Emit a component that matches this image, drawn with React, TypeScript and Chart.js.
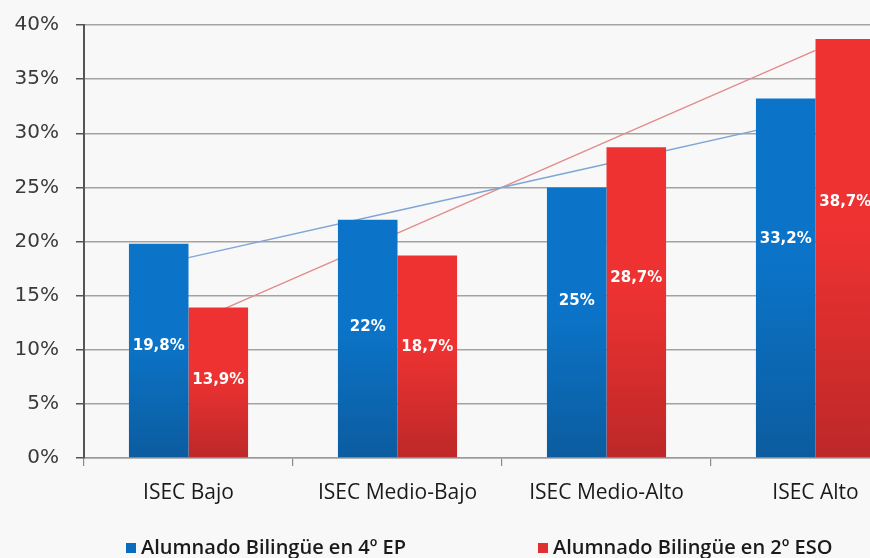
import React, { useEffect, useRef } from "react";
import { Chart, registerables } from "chart.js";

Chart.register(...registerables);

const categories = ["ISEC Bajo", "ISEC Medio-Bajo", "ISEC Medio-Alto", "ISEC Alto"];
const seriesNames = ["Alumnado Bilingüe en 4º EP", "Alumnado Bilingüe en 2º ESO"];
const primaria = [19.8, 22, 25, 33.2];
const secundaria = [13.9, 18.7, 28.7, 38.7];
const yTicks = [0, 5, 10, 15, 20, 25, 30, 35, 40];

// Linear (least squares) trend line computed from a series, as in the source chart
function linearTrend(vals: number[]): number[] {
  const n = vals.length;
  const mx = (n - 1) / 2;
  const my = vals.reduce((a, b) => a + b, 0) / n;
  let num = 0;
  let den = 0;
  vals.forEach((v, i) => {
    num += (i - mx) * (v - my);
    den += (i - mx) * (i - mx);
  });
  const slope = num / den;
  const icpt = my - slope * mx;
  return vals.map((_, i) => icpt + slope * i);
}

const BLUE_TOP = "#0b74c8";
const BLUE_BOT = "#0c5c9f";
const RED_TOP = "#ee3232";
const RED_BOT = "#bd2828";

function barGradient(top: string, bot: string) {
  return (ctx: any) => {
    const chart = ctx.chart;
    const ca = chart.chartArea;
    if (!ca || ctx.type !== "data") return top;
    const y = chart.scales.y;
    const v = ctx.raw as number;
    const yTop = y.getPixelForValue(v);
    const yBot = y.getPixelForValue(0);
    const g = chart.ctx.createLinearGradient(0, yTop, 0, yBot);
    g.addColorStop(0, top);
    g.addColorStop(0.45, top);
    g.addColorStop(1, bot);
    return g;
  };
}

const bgPlugin = {
  id: "bgPlugin",
  beforeDraw(chart: any) {
    const { ctx, width, height } = chart;
    ctx.save();
    ctx.fillStyle = "#f8f8f8";
    ctx.fillRect(0, 0, width, height);
    ctx.restore();
  },
};

const labelPlugin = {
  id: "labelPlugin",
  afterDatasetsDraw(chart: any) {
    const { ctx } = chart;
    const y = chart.scales.y;
    ctx.save();
    ctx.font = "bold 15px 'DejaVu Sans'";
    ctx.fillStyle = "#ffffff";
    ctx.textAlign = "center";
    ctx.textBaseline = "middle";
    [0, 1].forEach((di) => {
      const meta = chart.getDatasetMeta(di);
      const vals = chart.data.datasets[di].data as number[];
      meta.data.forEach((el: any, i: number) => {
        const v = vals[i];
        const frac = 0.52 + 0.03 * i;
        const txt = String(v).replace(".", ",") + "%";
        ctx.fillText(txt, el.x, y.getPixelForValue(v * frac));
      });
    });
    ctx.restore();
  },
};

const legendPlugin = {
  id: "legendPlugin",
  afterDraw(chart: any) {
    const { ctx } = chart;
    ctx.save();
    ctx.font = "600 20px 'Open Sans'";
    ctx.textBaseline = "middle";
    const yc = 548;
    const items = [
      { x: 126, color: "#0b6cbf", text: seriesNames[0] },
      { x: 538, color: "#e03030", text: seriesNames[1] },
    ];
    items.forEach((it) => {
      ctx.fillStyle = it.color;
      ctx.fillRect(it.x, yc - 5, 10, 10);
      ctx.fillStyle = "#1a1a1a";
      ctx.fillText(it.text, it.x + 15, yc);
    });
    ctx.restore();
  },
};

export default function App() {
  const ref = useRef<HTMLCanvasElement>(null);
  useEffect(() => {
    document.body.style.margin = "0";
    const canvas = ref.current!;
    const chart = new Chart(canvas, {
      type: "bar",
      data: {
        labels: categories,
        datasets: [
          {
            type: "bar",
            label: seriesNames[0],
            data: primaria,
            backgroundColor: barGradient(BLUE_TOP, BLUE_BOT),
            borderWidth: 0,
            order: 1,
            categoryPercentage: 0.57,
            barPercentage: 1.0,
          } as any,
          {
            type: "bar",
            label: seriesNames[1],
            data: secundaria,
            backgroundColor: barGradient(RED_TOP, RED_BOT),
            borderWidth: 0,
            order: 1,
            categoryPercentage: 0.57,
            barPercentage: 1.0,
          } as any,
          {
            type: "line",
            label: "Tendencia 4º EP",
            data: linearTrend(primaria),
            borderColor: "#7fa6d4",
            borderWidth: 1.3,
            pointRadius: 0,
            fill: false,
            order: 5,
          } as any,
          {
            type: "line",
            label: "Tendencia 2º ESO",
            data: linearTrend(secundaria),
            borderColor: "#e38a8a",
            borderWidth: 1.3,
            pointRadius: 0,
            fill: false,
            order: 5,
          } as any,
        ],
      },
      options: {
        responsive: false,
        devicePixelRatio: 1,
        animation: false,
        layout: { autoPadding: false, padding: { left: 0, right: 10, top: 25, bottom: 50 } },
        plugins: {
          legend: { display: false },
          tooltip: { enabled: false },
        },
        scales: {
          x: {
            offset: true,
            grid: {
              offset: true,
              drawOnChartArea: false,
              tickLength: 8,
              tickColor: "#8a8a8a",
              lineWidth: 1.2,
            },
            border: { display: true, color: "#9a9a9a", width: 1.5 },
            ticks: {
              color: "#1a1a1a",
              font: { family: "Open Sans", size: 21 },
              padding: 14,
            },
            afterFit: (s: any) => {
              s.height = 50;
            },
          },
          y: {
            min: 0,
            max: 40,
            afterBuildTicks: (s: any) => {
              s.ticks = yTicks.map((v) => ({ value: v }));
            },
            grid: {
              color: "#a3a3a3",
              lineWidth: 1.5,
              tickLength: 8,
              tickColor: "#555555",
            },
            border: { display: true, color: "#555555", width: 2 },
            ticks: {
              color: "#3a3a3a",
              font: { family: "DejaVu Sans", size: 20, lineHeight: 0.5 },
              padding: 17,
              callback: (v: any) => v + "%",
            },
            afterFit: (s: any) => {
              s.width = 84;
              s.paddingTop = 0;
              s.paddingBottom = 0;
            },
          },
        },
      } as any,
      plugins: [bgPlugin, labelPlugin, legendPlugin],
    });
    return () => chart.destroy();
  }, []);
  return (
    <div style={{ position: "absolute", left: 0, top: 0, width: 870, height: 558, overflow: "hidden", background: "#f8f8f8" }}>
      <canvas ref={ref} width={930} height={558} style={{ width: 930, height: 558, display: "block" }} />
    </div>
  );
}
